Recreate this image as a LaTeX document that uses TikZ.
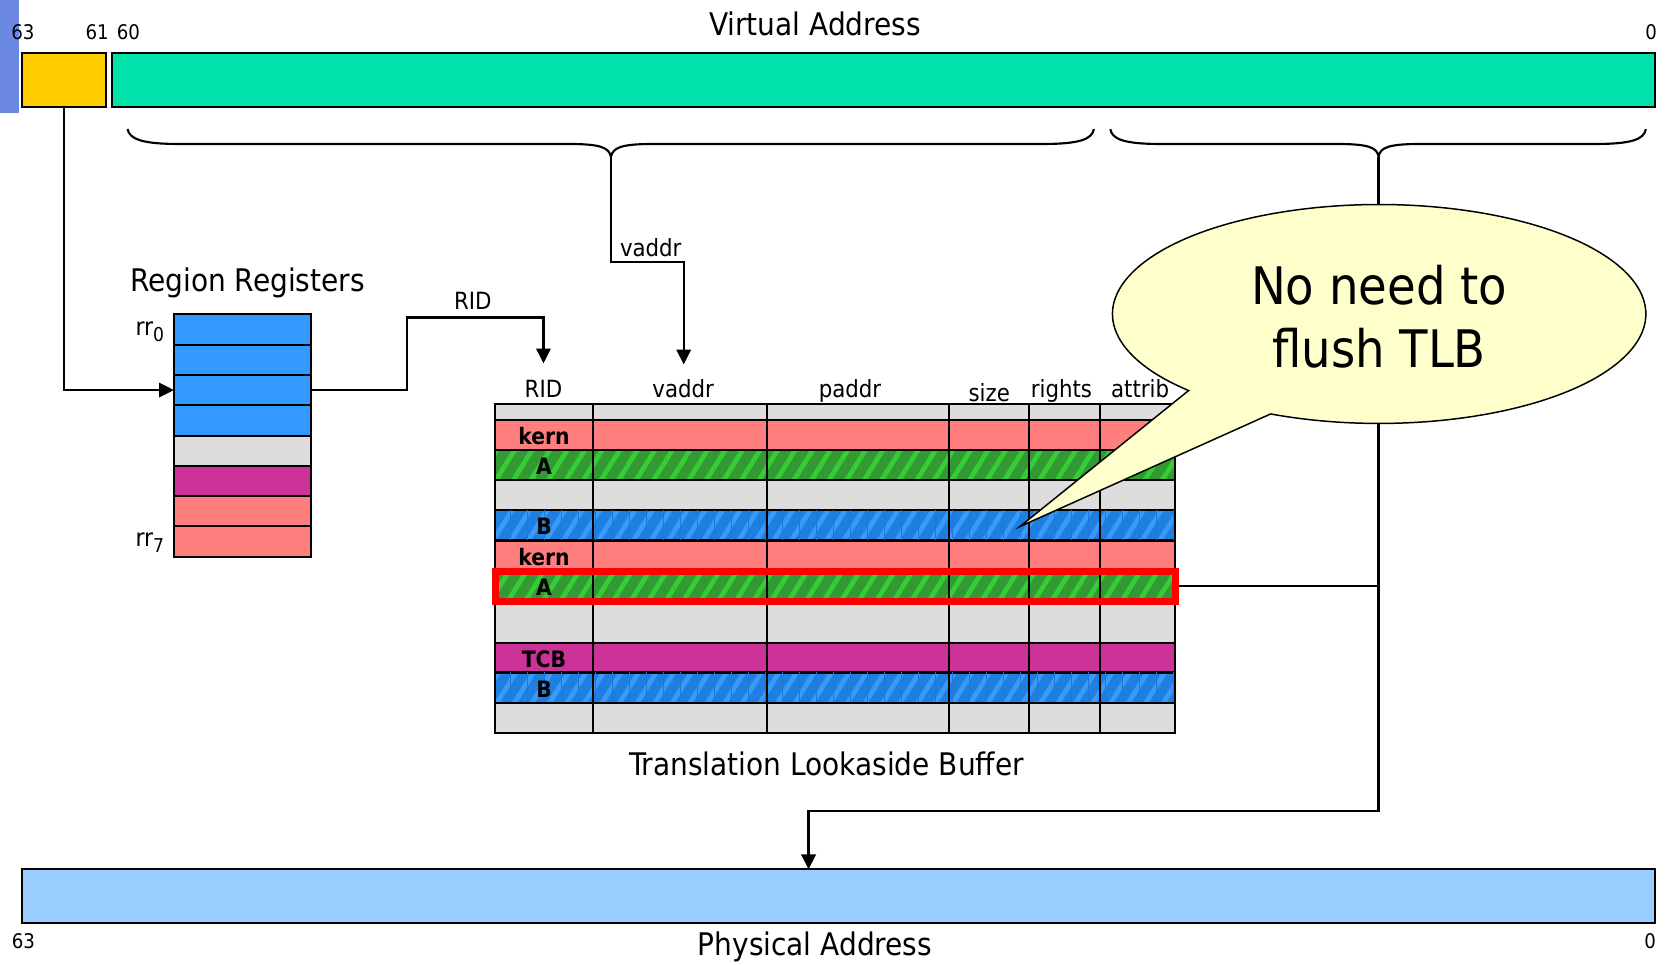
\documentclass[tikz,border=0pt]{standalone}
\usepackage{fontspec}
\setmainfont{DejaVu Sans Condensed}[BoldFont={DejaVu Sans Condensed Bold}]
\usetikzlibrary{arrows.meta,patterns.meta}

\definecolor{sidebar}{HTML}{6B88E3}
\definecolor{regionbits}{HTML}{FFCC00}
\definecolor{vbitsfill}{HTML}{00E2A9}
\definecolor{pbitsfill}{HTML}{99CCFF}
\definecolor{regblue}{HTML}{3399FF}
\definecolor{cellgrey}{HTML}{DDDDDD}
\definecolor{tcbmag}{HTML}{CC3399}
\definecolor{kernred}{HTML}{FF7F7F}
\definecolor{agreen}{HTML}{339933}
\definecolor{agreenlt}{HTML}{36CC36}
\definecolor{bblue}{HTML}{1E7FE0}
\definecolor{bbluelt}{HTML}{3A9AFA}
\definecolor{bbluedk}{HTML}{1D79D8}
\definecolor{bubblefill}{HTML}{FFFFCC}

% one TLB row: top y, bottom y, cell style
\newcommand\tlbrow[3]{%
  \foreach \xa/\xb in {466/558,558/722,722/893,893/968.5,968.5/1035.3,1035.3/1106}
    {\draw[#3] (\xa,#1) rectangle (\xb,#2);}}

\begin{document}
\begin{tikzpicture}[x=1pt,y=-1pt,
  bar/.style={draw=black,line width=1.9pt,inner sep=0pt,outer sep=0pt},
  conn/.style={draw=black,line width=2.2pt},
  tip/.style={-{Triangle[length=14pt,width=13.5pt]}},
  big/.style={font=\fontsize{29.3}{35}\selectfont},
  small/.style={font=\fontsize{22.3}{26}\selectfont},
  digit/.style={font=\fontsize{19}{22}\selectfont},
  rrlab/.style={font=\fontsize{23}{27}\selectfont,anchor=base west},
  rowlab/.style={font=\bfseries\fontsize{21.3}{25}\selectfont,anchor=base},
  greycell/.style={fill=cellgrey,draw=black,line width=1.8pt},
  kerncell/.style={fill=kernred,draw=black,line width=1.8pt},
  tcbcell/.style={fill=tcbmag,draw=black,line width=1.8pt},
  acell/.style={preaction={fill=agreen},pattern={Lines[angle=58,distance=14pt,line width=4.5pt]},pattern color=agreenlt,draw=black,line width=2pt},
  bcell/.style={preaction={fill=bblue},
    postaction={pattern={Lines[angle=90,distance=16pt,line width=0.8pt]},pattern color=bbluedk},
    pattern={Lines[angle=58,distance=14pt,line width=4.5pt]},pattern color=bbluelt,draw=black,line width=2.3pt},
  regcell/.style={draw=black,line width=1.9pt,inner sep=0pt,outer sep=0pt,minimum width=128.7pt,minimum height=28.52pt},
]
\useasboundingbox (0,0) rectangle (1568,908);

% slide edge
\fill[sidebar] (0,0) rectangle (17.5,106.5);

% virtual address
\node[bar,fill=regionbits,minimum width=79.1pt,minimum height=50.8pt] (rbits) at (60.25,75.3) {};
\node[bar,fill=vbitsfill,minimum width=1452.2pt,minimum height=50.8pt] (vbits) at (831.5,75.3) {};
\node[big,anchor=base] (vatitle) at (767,33) {Virtual Address};
\node[digit] (b63) at (21.5,30.3) {63};
\node[digit] (b61) at (91.5,30.3) {61};
\node[digit] (b60) at (120.8,30.3) {60};
\node[digit] (b0) at (1554,30.3) {0};

% braces under the address fields
\draw[line width=2pt] (120,121.5) .. controls (122,131) and (134,135.5) .. (168,135.5) -- (535,135.5)
  .. controls (566,135.5) and (573,139) .. (575,147.5)
  .. controls (577,139) and (584,135.5) .. (615,135.5) -- (982,135.5)
  .. controls (1016,135.5) and (1028,131) .. (1029.5,121.5);
\draw[line width=2pt] (1045,121.5) .. controls (1046.5,131) and (1058,135.5) .. (1092,135.5) -- (1258,135.5)
  .. controls (1289,135.5) and (1296,139) .. (1297.5,147.5)
  .. controls (1299,139) and (1306,135.5) .. (1337,135.5) -- (1502,135.5)
  .. controls (1536,135.5) and (1547.5,131) .. (1549,121.5);
\coordinate (vtip) at (575,147.5);
\coordinate (otip) at (1297.5,147.5);

% region registers
\node[big,anchor=base] (rrtitle) at (233,274.5) {Region Registers};
\foreach \i/\c in {0/regblue,1/regblue,2/regblue,3/regblue,4/cellgrey,5/tcbmag,6/kernred,7/kernred}
  \node[regcell,fill=\c] (rr\i) at (228.05,{310.06+\i*28.525}) {};
\node[rrlab] (rr0lab) at (124,316) {rr\raisebox{-5.6pt}{\fontsize{18}{18}\selectfont 0}};
\node[rrlab] (rr7lab) at (124,514.5) {rr\raisebox{-5.6pt}{\fontsize{18}{18}\selectfont 7}};

% physical address
\node[bar,fill=pbitsfill,minimum width=1536.5pt,minimum height=50.2pt] (pbar) at (789.25,843.3) {};
\node[big,anchor=base] (patitle) at (767,899) {Physical Address};
\node[digit] (p63) at (22,886) {63};
\node[digit] (p0) at (1553,886) {0};

% connectors
\coordinate (ridup) at (383,298.7);
\coordinate (ridin) at (511.5,342);
\coordinate (vbend) at (643.5,246.4);
\coordinate (vin) at (643.5,343);
\coordinate (pturn) at (761,763.5);
\coordinate (hitR) at (1106,551.75);
\draw[conn,tip] (rbits.south) |- (rr2.west);
\draw[conn,tip] (rr2.east) -| (ridup) -| (ridin);
\node[small,anchor=base] (ridlab) at (445,291.5) {RID};
\draw[conn,tip] (vtip) |- (vbend) -- (vin);
\node[small,anchor=base west] (vlab) at (580,241) {vaddr};
\draw[conn,tip] (otip) |- (pturn) -- (pturn |- pbar.north);
\draw[conn] (hitR) -- (otip |- hitR);

% translation lookaside buffer
\node[small,anchor=base] (hrid) at (511.5,374) {RID};
\node[small,anchor=base] (hva) at (643,374) {vaddr};
\node[small,anchor=base] (hpa) at (800,374) {paddr};
\node[small,anchor=base] (hsz) at (931,378) {size};
\node[small,anchor=base] (hrt) at (999,374) {rights};
\node[small,anchor=base] (hat) at (1073,374) {attrib};

\tlbrow{380.5}{395.3}{greycell}
\tlbrow{395.3}{423.5}{kerncell}
\tlbrow{423.5}{451.8}{acell}
\tlbrow{451.8}{480}{greycell}
\tlbrow{480}{508.9}{bcell}
\tlbrow{508.9}{537.5}{kerncell}
\tlbrow{537.5}{566}{acell}
\tlbrow{566}{604.9}{greycell}
\tlbrow{604.9}{633.1}{tcbcell}
\tlbrow{633.1}{662}{bcell}
\tlbrow{662}{690.2}{greycell}

\node[draw=red,line width=6.5pt,inner sep=0pt,minimum width=640pt,minimum height=28.5pt] (hit) at (786,551.75) {};

\node[rowlab] (t1) at (512,418.4) {kern};
\node[rowlab] (t2) at (512,446.6) {A};
\node[rowlab] (t4) at (512,503.5) {B};
\node[rowlab] (t5) at (512,532.2) {kern};
\node[rowlab] (t6) at (512,560.8) {A};
\node[rowlab] (t8) at (512,628) {TCB};
\node[rowlab] (t9) at (512,656.6) {B};

\node[big,anchor=base] (tlbtitle) at (778,729.5) {Translation Lookaside Buffer};

% callout
\coordinate (bc) at (1298,295.5);
\coordinate (ptip) at (960,495.5);
\draw[fill=bubblefill,line width=1.4pt,line join=miter]
  (bc) ++(114:251 and 103) arc[start angle=114,end angle=-224.4,x radius=251,y radius=103]
  -- (ptip) -- cycle;
\node[font=\fontsize{48.7}{58}\selectfont,anchor=base] (note1) at (1298,287) {No need to};
\node[font=\fontsize{48.7}{58}\selectfont,anchor=base] (note2) at (1298,346) {flush TLB};
\end{tikzpicture}
\end{document}
